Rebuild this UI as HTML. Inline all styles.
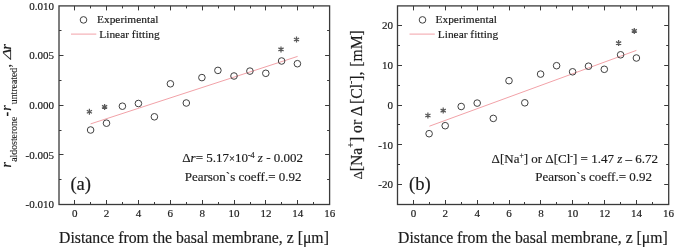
<!DOCTYPE html>
<html><head><meta charset="utf-8"><style>
html,body{margin:0;padding:0;background:#fff;}
body{width:675px;height:247px;overflow:hidden;}
svg{display:block;font-family:"Liberation Serif", serif;will-change:transform;}
text{fill:#1c1c1c;stroke:#1c1c1c;stroke-width:0.18px;}
</style></head><body>
<svg width="675" height="247" viewBox="0 0 675 247">
<rect width="675" height="247" fill="#fff"/>
<rect x="59" y="5.9" width="270.6" height="198.6" fill="none" stroke="#3a3a3a" stroke-width="1.3"/>
<line x1="74.50" y1="204.5" x2="74.50" y2="200.0" stroke="#3a3a3a" stroke-width="1"/>
<line x1="74.50" y1="5.9" x2="74.50" y2="10.4" stroke="#3a3a3a" stroke-width="1"/>
<line x1="90.50" y1="204.5" x2="90.50" y2="202.0" stroke="#3a3a3a" stroke-width="1"/>
<line x1="90.50" y1="5.9" x2="90.50" y2="8.4" stroke="#3a3a3a" stroke-width="1"/>
<line x1="106.50" y1="204.5" x2="106.50" y2="200.0" stroke="#3a3a3a" stroke-width="1"/>
<line x1="106.50" y1="5.9" x2="106.50" y2="10.4" stroke="#3a3a3a" stroke-width="1"/>
<line x1="122.50" y1="204.5" x2="122.50" y2="202.0" stroke="#3a3a3a" stroke-width="1"/>
<line x1="122.50" y1="5.9" x2="122.50" y2="8.4" stroke="#3a3a3a" stroke-width="1"/>
<line x1="138.50" y1="204.5" x2="138.50" y2="200.0" stroke="#3a3a3a" stroke-width="1"/>
<line x1="138.50" y1="5.9" x2="138.50" y2="10.4" stroke="#3a3a3a" stroke-width="1"/>
<line x1="154.50" y1="204.5" x2="154.50" y2="202.0" stroke="#3a3a3a" stroke-width="1"/>
<line x1="154.50" y1="5.9" x2="154.50" y2="8.4" stroke="#3a3a3a" stroke-width="1"/>
<line x1="170.50" y1="204.5" x2="170.50" y2="200.0" stroke="#3a3a3a" stroke-width="1"/>
<line x1="170.50" y1="5.9" x2="170.50" y2="10.4" stroke="#3a3a3a" stroke-width="1"/>
<line x1="186.50" y1="204.5" x2="186.50" y2="202.0" stroke="#3a3a3a" stroke-width="1"/>
<line x1="186.50" y1="5.9" x2="186.50" y2="8.4" stroke="#3a3a3a" stroke-width="1"/>
<line x1="202.50" y1="204.5" x2="202.50" y2="200.0" stroke="#3a3a3a" stroke-width="1"/>
<line x1="202.50" y1="5.9" x2="202.50" y2="10.4" stroke="#3a3a3a" stroke-width="1"/>
<line x1="218.50" y1="204.5" x2="218.50" y2="202.0" stroke="#3a3a3a" stroke-width="1"/>
<line x1="218.50" y1="5.9" x2="218.50" y2="8.4" stroke="#3a3a3a" stroke-width="1"/>
<line x1="234.50" y1="204.5" x2="234.50" y2="200.0" stroke="#3a3a3a" stroke-width="1"/>
<line x1="234.50" y1="5.9" x2="234.50" y2="10.4" stroke="#3a3a3a" stroke-width="1"/>
<line x1="250.50" y1="204.5" x2="250.50" y2="202.0" stroke="#3a3a3a" stroke-width="1"/>
<line x1="250.50" y1="5.9" x2="250.50" y2="8.4" stroke="#3a3a3a" stroke-width="1"/>
<line x1="265.50" y1="204.5" x2="265.50" y2="200.0" stroke="#3a3a3a" stroke-width="1"/>
<line x1="265.50" y1="5.9" x2="265.50" y2="10.4" stroke="#3a3a3a" stroke-width="1"/>
<line x1="281.50" y1="204.5" x2="281.50" y2="202.0" stroke="#3a3a3a" stroke-width="1"/>
<line x1="281.50" y1="5.9" x2="281.50" y2="8.4" stroke="#3a3a3a" stroke-width="1"/>
<line x1="297.50" y1="204.5" x2="297.50" y2="200.0" stroke="#3a3a3a" stroke-width="1"/>
<line x1="297.50" y1="5.9" x2="297.50" y2="10.4" stroke="#3a3a3a" stroke-width="1"/>
<line x1="313.50" y1="204.5" x2="313.50" y2="202.0" stroke="#3a3a3a" stroke-width="1"/>
<line x1="313.50" y1="5.9" x2="313.50" y2="8.4" stroke="#3a3a3a" stroke-width="1"/>
<line x1="59" y1="154.50" x2="63.5" y2="154.50" stroke="#3a3a3a" stroke-width="1"/>
<line x1="329.6" y1="154.50" x2="325.1" y2="154.50" stroke="#3a3a3a" stroke-width="1"/>
<line x1="59" y1="105.50" x2="63.5" y2="105.50" stroke="#3a3a3a" stroke-width="1"/>
<line x1="329.6" y1="105.50" x2="325.1" y2="105.50" stroke="#3a3a3a" stroke-width="1"/>
<line x1="59" y1="55.50" x2="63.5" y2="55.50" stroke="#3a3a3a" stroke-width="1"/>
<line x1="329.6" y1="55.50" x2="325.1" y2="55.50" stroke="#3a3a3a" stroke-width="1"/>
<line x1="59" y1="179.50" x2="61.5" y2="179.50" stroke="#3a3a3a" stroke-width="1"/>
<line x1="329.6" y1="179.50" x2="327.1" y2="179.50" stroke="#3a3a3a" stroke-width="1"/>
<line x1="59" y1="130.50" x2="61.5" y2="130.50" stroke="#3a3a3a" stroke-width="1"/>
<line x1="329.6" y1="130.50" x2="327.1" y2="130.50" stroke="#3a3a3a" stroke-width="1"/>
<line x1="59" y1="80.50" x2="61.5" y2="80.50" stroke="#3a3a3a" stroke-width="1"/>
<line x1="329.6" y1="80.50" x2="327.1" y2="80.50" stroke="#3a3a3a" stroke-width="1"/>
<line x1="59" y1="30.50" x2="61.5" y2="30.50" stroke="#3a3a3a" stroke-width="1"/>
<line x1="329.6" y1="30.50" x2="327.1" y2="30.50" stroke="#3a3a3a" stroke-width="1"/>
<rect x="397.5" y="5.9" width="271.20000000000005" height="198.6" fill="none" stroke="#3a3a3a" stroke-width="1.3"/>
<line x1="413.50" y1="204.5" x2="413.50" y2="200.0" stroke="#3a3a3a" stroke-width="1"/>
<line x1="413.50" y1="5.9" x2="413.50" y2="10.4" stroke="#3a3a3a" stroke-width="1"/>
<line x1="429.50" y1="204.5" x2="429.50" y2="202.0" stroke="#3a3a3a" stroke-width="1"/>
<line x1="429.50" y1="5.9" x2="429.50" y2="8.4" stroke="#3a3a3a" stroke-width="1"/>
<line x1="445.50" y1="204.5" x2="445.50" y2="200.0" stroke="#3a3a3a" stroke-width="1"/>
<line x1="445.50" y1="5.9" x2="445.50" y2="10.4" stroke="#3a3a3a" stroke-width="1"/>
<line x1="461.50" y1="204.5" x2="461.50" y2="202.0" stroke="#3a3a3a" stroke-width="1"/>
<line x1="461.50" y1="5.9" x2="461.50" y2="8.4" stroke="#3a3a3a" stroke-width="1"/>
<line x1="477.50" y1="204.5" x2="477.50" y2="200.0" stroke="#3a3a3a" stroke-width="1"/>
<line x1="477.50" y1="5.9" x2="477.50" y2="10.4" stroke="#3a3a3a" stroke-width="1"/>
<line x1="493.50" y1="204.5" x2="493.50" y2="202.0" stroke="#3a3a3a" stroke-width="1"/>
<line x1="493.50" y1="5.9" x2="493.50" y2="8.4" stroke="#3a3a3a" stroke-width="1"/>
<line x1="509.50" y1="204.5" x2="509.50" y2="200.0" stroke="#3a3a3a" stroke-width="1"/>
<line x1="509.50" y1="5.9" x2="509.50" y2="10.4" stroke="#3a3a3a" stroke-width="1"/>
<line x1="524.50" y1="204.5" x2="524.50" y2="202.0" stroke="#3a3a3a" stroke-width="1"/>
<line x1="524.50" y1="5.9" x2="524.50" y2="8.4" stroke="#3a3a3a" stroke-width="1"/>
<line x1="540.50" y1="204.5" x2="540.50" y2="200.0" stroke="#3a3a3a" stroke-width="1"/>
<line x1="540.50" y1="5.9" x2="540.50" y2="10.4" stroke="#3a3a3a" stroke-width="1"/>
<line x1="556.50" y1="204.5" x2="556.50" y2="202.0" stroke="#3a3a3a" stroke-width="1"/>
<line x1="556.50" y1="5.9" x2="556.50" y2="8.4" stroke="#3a3a3a" stroke-width="1"/>
<line x1="572.50" y1="204.5" x2="572.50" y2="200.0" stroke="#3a3a3a" stroke-width="1"/>
<line x1="572.50" y1="5.9" x2="572.50" y2="10.4" stroke="#3a3a3a" stroke-width="1"/>
<line x1="588.50" y1="204.5" x2="588.50" y2="202.0" stroke="#3a3a3a" stroke-width="1"/>
<line x1="588.50" y1="5.9" x2="588.50" y2="8.4" stroke="#3a3a3a" stroke-width="1"/>
<line x1="604.50" y1="204.5" x2="604.50" y2="200.0" stroke="#3a3a3a" stroke-width="1"/>
<line x1="604.50" y1="5.9" x2="604.50" y2="10.4" stroke="#3a3a3a" stroke-width="1"/>
<line x1="620.50" y1="204.5" x2="620.50" y2="202.0" stroke="#3a3a3a" stroke-width="1"/>
<line x1="620.50" y1="5.9" x2="620.50" y2="8.4" stroke="#3a3a3a" stroke-width="1"/>
<line x1="636.50" y1="204.5" x2="636.50" y2="200.0" stroke="#3a3a3a" stroke-width="1"/>
<line x1="636.50" y1="5.9" x2="636.50" y2="10.4" stroke="#3a3a3a" stroke-width="1"/>
<line x1="652.50" y1="204.5" x2="652.50" y2="202.0" stroke="#3a3a3a" stroke-width="1"/>
<line x1="652.50" y1="5.9" x2="652.50" y2="8.4" stroke="#3a3a3a" stroke-width="1"/>
<line x1="397.5" y1="184.50" x2="402.0" y2="184.50" stroke="#3a3a3a" stroke-width="1"/>
<line x1="668.7" y1="184.50" x2="664.2" y2="184.50" stroke="#3a3a3a" stroke-width="1"/>
<line x1="397.5" y1="144.50" x2="402.0" y2="144.50" stroke="#3a3a3a" stroke-width="1"/>
<line x1="668.7" y1="144.50" x2="664.2" y2="144.50" stroke="#3a3a3a" stroke-width="1"/>
<line x1="397.5" y1="105.50" x2="402.0" y2="105.50" stroke="#3a3a3a" stroke-width="1"/>
<line x1="668.7" y1="105.50" x2="664.2" y2="105.50" stroke="#3a3a3a" stroke-width="1"/>
<line x1="397.5" y1="65.50" x2="402.0" y2="65.50" stroke="#3a3a3a" stroke-width="1"/>
<line x1="668.7" y1="65.50" x2="664.2" y2="65.50" stroke="#3a3a3a" stroke-width="1"/>
<line x1="397.5" y1="25.50" x2="402.0" y2="25.50" stroke="#3a3a3a" stroke-width="1"/>
<line x1="668.7" y1="25.50" x2="664.2" y2="25.50" stroke="#3a3a3a" stroke-width="1"/>
<line x1="397.5" y1="164.50" x2="400.0" y2="164.50" stroke="#3a3a3a" stroke-width="1"/>
<line x1="668.7" y1="164.50" x2="666.2" y2="164.50" stroke="#3a3a3a" stroke-width="1"/>
<line x1="397.5" y1="124.50" x2="400.0" y2="124.50" stroke="#3a3a3a" stroke-width="1"/>
<line x1="668.7" y1="124.50" x2="666.2" y2="124.50" stroke="#3a3a3a" stroke-width="1"/>
<line x1="397.5" y1="85.50" x2="400.0" y2="85.50" stroke="#3a3a3a" stroke-width="1"/>
<line x1="668.7" y1="85.50" x2="666.2" y2="85.50" stroke="#3a3a3a" stroke-width="1"/>
<line x1="397.5" y1="45.50" x2="400.0" y2="45.50" stroke="#3a3a3a" stroke-width="1"/>
<line x1="668.7" y1="45.50" x2="666.2" y2="45.50" stroke="#3a3a3a" stroke-width="1"/>
<line x1="90.6" y1="123.9" x2="297.6" y2="56.4" stroke="#f2a2a8" stroke-width="1"/>
<line x1="429.4" y1="126.2" x2="636.4" y2="50.4" stroke="#f2a2a8" stroke-width="1"/>
<circle cx="90.60" cy="130.00" r="3.3" fill="none" stroke="#404040" stroke-width="1.0"/>
<circle cx="106.50" cy="123.20" r="3.3" fill="none" stroke="#404040" stroke-width="1.0"/>
<circle cx="122.40" cy="106.20" r="3.3" fill="none" stroke="#404040" stroke-width="1.0"/>
<circle cx="138.40" cy="103.50" r="3.3" fill="none" stroke="#404040" stroke-width="1.0"/>
<circle cx="154.40" cy="116.80" r="3.3" fill="none" stroke="#404040" stroke-width="1.0"/>
<circle cx="170.40" cy="83.80" r="3.3" fill="none" stroke="#404040" stroke-width="1.0"/>
<circle cx="186.30" cy="103.00" r="3.3" fill="none" stroke="#404040" stroke-width="1.0"/>
<circle cx="201.90" cy="77.60" r="3.3" fill="none" stroke="#404040" stroke-width="1.0"/>
<circle cx="217.90" cy="70.40" r="3.3" fill="none" stroke="#404040" stroke-width="1.0"/>
<circle cx="234.00" cy="76.00" r="3.3" fill="none" stroke="#404040" stroke-width="1.0"/>
<circle cx="249.90" cy="71.10" r="3.3" fill="none" stroke="#404040" stroke-width="1.0"/>
<circle cx="265.80" cy="73.30" r="3.3" fill="none" stroke="#404040" stroke-width="1.0"/>
<circle cx="281.60" cy="61.00" r="3.3" fill="none" stroke="#404040" stroke-width="1.0"/>
<circle cx="297.40" cy="63.70" r="3.3" fill="none" stroke="#404040" stroke-width="1.0"/>
<circle cx="429.10" cy="133.70" r="3.3" fill="none" stroke="#404040" stroke-width="1.0"/>
<circle cx="445.20" cy="125.70" r="3.3" fill="none" stroke="#404040" stroke-width="1.0"/>
<circle cx="461.20" cy="106.50" r="3.3" fill="none" stroke="#404040" stroke-width="1.0"/>
<circle cx="477.20" cy="103.10" r="3.3" fill="none" stroke="#404040" stroke-width="1.0"/>
<circle cx="493.30" cy="118.40" r="3.3" fill="none" stroke="#404040" stroke-width="1.0"/>
<circle cx="509.00" cy="80.70" r="3.3" fill="none" stroke="#404040" stroke-width="1.0"/>
<circle cx="524.80" cy="102.80" r="3.3" fill="none" stroke="#404040" stroke-width="1.0"/>
<circle cx="540.60" cy="74.10" r="3.3" fill="none" stroke="#404040" stroke-width="1.0"/>
<circle cx="556.60" cy="65.70" r="3.3" fill="none" stroke="#404040" stroke-width="1.0"/>
<circle cx="572.60" cy="71.80" r="3.3" fill="none" stroke="#404040" stroke-width="1.0"/>
<circle cx="588.50" cy="66.20" r="3.3" fill="none" stroke="#404040" stroke-width="1.0"/>
<circle cx="604.30" cy="69.30" r="3.3" fill="none" stroke="#404040" stroke-width="1.0"/>
<circle cx="620.60" cy="54.80" r="3.3" fill="none" stroke="#404040" stroke-width="1.0"/>
<circle cx="636.40" cy="58.00" r="3.3" fill="none" stroke="#404040" stroke-width="1.0"/>
<path d="M89.40,108.80L89.40,114.80M92.00,110.30L86.80,113.30M92.00,113.30L86.80,110.30" stroke="#5a5a5a" stroke-width="1.25" fill="none"/>
<path d="M104.60,103.90L104.60,109.90M107.20,105.40L102.00,108.40M107.20,108.40L102.00,105.40" stroke="#5a5a5a" stroke-width="1.25" fill="none"/>
<path d="M281.00,46.40L281.00,52.40M283.60,47.90L278.40,50.90M283.60,50.90L278.40,47.90" stroke="#5a5a5a" stroke-width="1.25" fill="none"/>
<path d="M296.50,36.50L296.50,42.50M299.10,38.00L293.90,41.00M299.10,41.00L293.90,38.00" stroke="#5a5a5a" stroke-width="1.25" fill="none"/>
<path d="M427.90,112.50L427.90,118.50M430.50,114.00L425.30,117.00M430.50,117.00L425.30,114.00" stroke="#5a5a5a" stroke-width="1.25" fill="none"/>
<path d="M443.20,107.60L443.20,113.60M445.80,109.10L440.60,112.10M445.80,112.10L440.60,109.10" stroke="#5a5a5a" stroke-width="1.25" fill="none"/>
<path d="M618.60,40.10L618.60,46.10M621.20,41.60L616.00,44.60M621.20,44.60L616.00,41.60" stroke="#5a5a5a" stroke-width="1.25" fill="none"/>
<path d="M634.30,27.90L634.30,33.90M636.90,29.40L631.70,32.40M636.90,32.40L631.70,29.40" stroke="#5a5a5a" stroke-width="1.25" fill="none"/>
<circle cx="83.50" cy="19.90" r="3.3" fill="none" stroke="#404040" stroke-width="1.0"/>
<line x1="71" y1="34.1" x2="96.3" y2="34.1" stroke="#f2a2a8" stroke-width="1"/>
<circle cx="422.50" cy="19.90" r="3.3" fill="none" stroke="#404040" stroke-width="1.0"/>
<line x1="409.5" y1="34.1" x2="434.8" y2="34.1" stroke="#f2a2a8" stroke-width="1"/>
<text x="97" y="23.2" font-size="11.4" text-anchor="start" >Experimental</text>
<text x="99.3" y="37.5" font-size="11.4" text-anchor="start" >Linear fitting</text>
<text x="435.5" y="23.2" font-size="11.4" text-anchor="start" >Experimental</text>
<text x="437.8" y="37.5" font-size="11.4" text-anchor="start" >Linear fitting</text>
<text x="54" y="9.599999999999998" font-size="11" text-anchor="end" >0.010</text>
<text x="54" y="59.3" font-size="11" text-anchor="end" >0.005</text>
<text x="54" y="109.0" font-size="11" text-anchor="end" >0.000</text>
<text x="54" y="158.70000000000002" font-size="11" text-anchor="end" >-0.005</text>
<text x="54" y="208.40000000000003" font-size="11" text-anchor="end" >-0.010</text>
<text x="393" y="29.399999999999995" font-size="11" text-anchor="end" >20</text>
<text x="393" y="69.1" font-size="11" text-anchor="end" >10</text>
<text x="393" y="108.8" font-size="11" text-anchor="end" >0</text>
<text x="393" y="148.5" font-size="11" text-anchor="end" >-10</text>
<text x="393" y="188.20000000000002" font-size="11" text-anchor="end" >-20</text>
<text x="74.7" y="217.4" font-size="11" text-anchor="middle" >0</text>
<text x="413.4" y="217.4" font-size="11" text-anchor="middle" >0</text>
<text x="106.58" y="217.4" font-size="11" text-anchor="middle" >2</text>
<text x="445.28" y="217.4" font-size="11" text-anchor="middle" >2</text>
<text x="138.46" y="217.4" font-size="11" text-anchor="middle" >4</text>
<text x="477.15999999999997" y="217.4" font-size="11" text-anchor="middle" >4</text>
<text x="170.34" y="217.4" font-size="11" text-anchor="middle" >6</text>
<text x="509.03999999999996" y="217.4" font-size="11" text-anchor="middle" >6</text>
<text x="202.22" y="217.4" font-size="11" text-anchor="middle" >8</text>
<text x="540.92" y="217.4" font-size="11" text-anchor="middle" >8</text>
<text x="234.10000000000002" y="217.4" font-size="11" text-anchor="middle" >10</text>
<text x="572.8" y="217.4" font-size="11" text-anchor="middle" >10</text>
<text x="265.98" y="217.4" font-size="11" text-anchor="middle" >12</text>
<text x="604.68" y="217.4" font-size="11" text-anchor="middle" >12</text>
<text x="297.86" y="217.4" font-size="11" text-anchor="middle" >14</text>
<text x="636.56" y="217.4" font-size="11" text-anchor="middle" >14</text>
<text x="329.74" y="217.4" font-size="11" text-anchor="middle" >16</text>
<text x="668.4399999999999" y="217.4" font-size="11" text-anchor="middle" >16</text>
<text x="59.1" y="243" font-size="15.78" text-anchor="start" >Distance from the basal membrane, z [μm]</text>
<text x="398.0" y="243" font-size="15.78" text-anchor="start" >Distance from the basal membrane, z [μm]</text>
<text x="70.4" y="190" font-size="18.6" text-anchor="start" >(a)</text>
<text x="409" y="190" font-size="18.6" text-anchor="start" >(b)</text>
<text x="303" y="162.2" font-size="13" text-anchor="end" >Δ<tspan font-style="italic">r</tspan>= 5.17<tspan font-size="10.5" dy="-0.6">×</tspan><tspan dy="0.6">10</tspan><tspan dy="-4" font-size="8">-4</tspan><tspan dy="4"> </tspan><tspan font-style="italic">z</tspan> - 0.002</text>
<text x="301.5" y="180.9" font-size="13" text-anchor="end" >Pearson`s coeff.= 0.92</text>
<text x="658" y="163" font-size="13" text-anchor="end" >Δ[Na<tspan dy="-5" font-size="7.5">+</tspan><tspan dy="5">] or Δ[Cl</tspan><tspan dy="-4" font-size="8">-</tspan><tspan dy="4">] = 1.47 </tspan><tspan font-style="italic">z</tspan> – 6.72</text>
<text x="652" y="181" font-size="13" text-anchor="end" >Pearson`s coeff.= 0.92</text>
<text transform="translate(11.3,167.4) rotate(-90)" font-size="14" font-style="italic">r</text>
<text transform="translate(17.3,161.8) rotate(-90)" font-size="9.8" style="stroke-width:0.08px">aldosterone</text>
<text transform="translate(11.3,116.4) rotate(-90)" font-size="14" font-weight="bold">-</text>
<text transform="translate(11.3,110.8) rotate(-90)" font-size="14" font-style="italic">r</text>
<text transform="translate(17.3,104.2) rotate(-90)" font-size="9.8" style="stroke-width:0.08px">untreated</text>
<text transform="translate(11.3,67.5) rotate(-90)" font-size="14" >,</text>
<text transform="translate(11.3,59.2) rotate(-90) scale(1.4,1)" font-size="13" font-style="italic">Δ</text>
<text transform="translate(11.3,49.6) rotate(-90)" font-size="14" font-style="italic">r</text>
<text transform="translate(362.2,179.6) rotate(-90)" font-size="15.7" ><tspan font-size="13">Δ</tspan>[Na<tspan dy="-8" font-size="10">+</tspan><tspan dy="8">] or Δ</tspan><tspan dx="1.8">[Cl</tspan><tspan dy="-8" font-size="10">-</tspan><tspan dy="8">],</tspan><tspan dx="0.8"> [mM]</tspan></text>
</svg>
</body></html>
